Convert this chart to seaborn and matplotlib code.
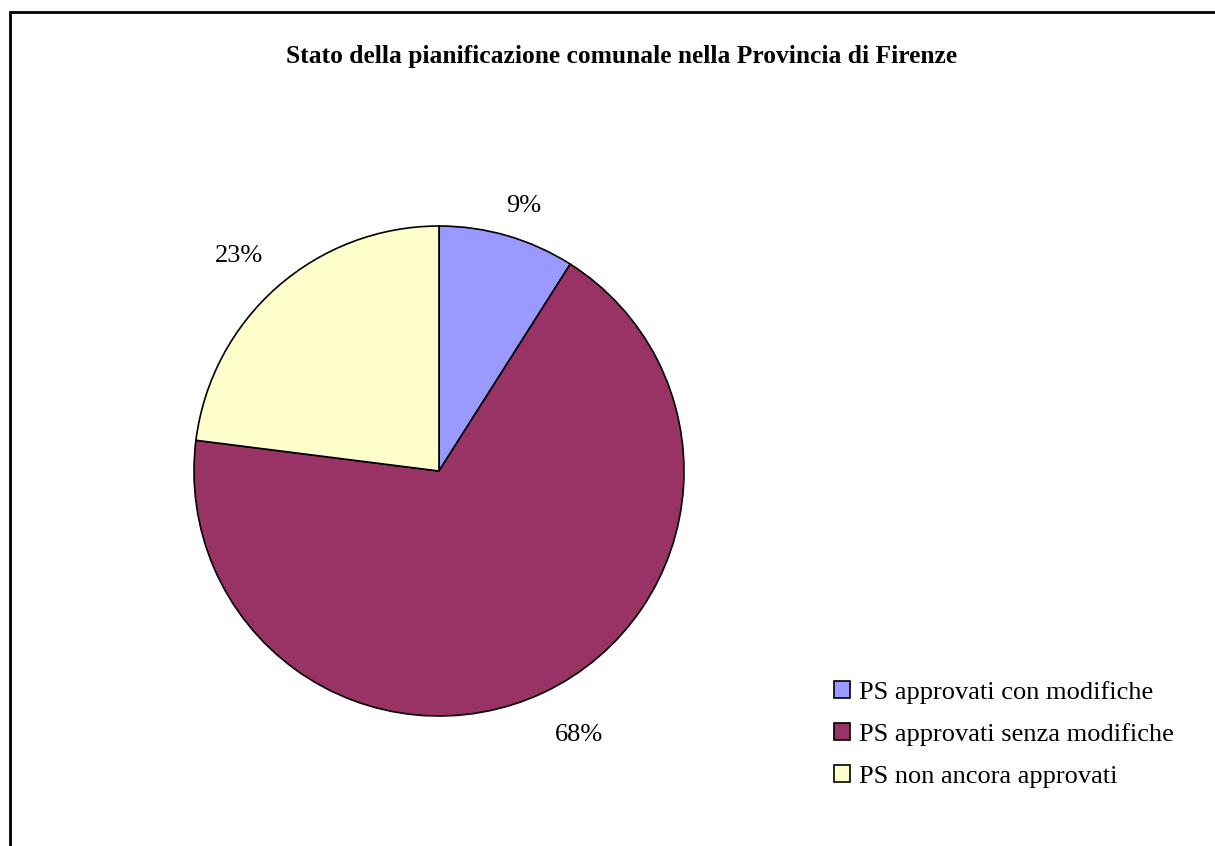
import matplotlib
matplotlib.use("Agg")
import numpy as np
import matplotlib.pyplot as plt
import seaborn as sns
from matplotlib.patches import Rectangle, Patch

categories = ["PS approvati con modifiche", "PS approvati senza modifiche", "PS non ancora approvati"]
values = [9, 68, 23]
colors = ["#9999FF", "#993366", "#FFFFCC"]
title = "Stato della pianificazione comunale nella Provincia di Firenze"

sns.set_theme(style="white")
plt.rcParams["font.family"] = ["Liberation Serif", "DejaVu Serif"]
plt.rcParams["text.color"] = "black"

W, H = 1215, 846
fig = plt.figure(figsize=(W / 100, H / 100), dpi=100)
fig.patch.set_facecolor("white")

# frame
fig.patches.append(Rectangle((10 / W, -0.1), 1.2, 1 - 12 / H + 0.1, transform=fig.transFigure,
                             fill=False, edgecolor="black", linewidth=2))

cx, cy, r = 439, 471, 245
ax = fig.add_axes([(cx - r) / W, (H - cy - r) / H, 2 * r / W, 2 * r / H])
wedges, texts, autotexts = ax.pie(values, colors=colors, startangle=90, counterclock=False,
                                  autopct=lambda p: f"{p:.0f}%", pctdistance=1.17,
                                  wedgeprops=dict(edgecolor="black", linewidth=1.2),
                                  textprops=dict(fontsize=19, color="black"))
# label placement (radial distance, angular nudge in degrees) like Excel's outside labels
label_dist = [1.135, 1.22, 1.2]
label_nudge = [-1.5, 2.8, 1.5]
for w, t, d, n in zip(wedges, autotexts, label_dist, label_nudge):
    ang = np.deg2rad((w.theta1 + w.theta2) / 2 + n)
    t.set_position((d * np.cos(ang), d * np.sin(ang)))
ax.set_aspect("equal")
ax.set_xlim(-1, 1)
ax.set_ylim(-1, 1)
ax.axis("off")

fig.text(622 / W, 1 - 57 / H, title, ha="center", va="center", fontsize=18.4,
         fontweight="bold", color="black")

handles = [Patch(facecolor=c, edgecolor="black", linewidth=1.2) for c in colors]
leg = fig.legend(handles, categories, loc="upper left", bbox_to_anchor=(834 / W, 1 - 681 / H),
                 frameon=False, fontsize=19, handlelength=0.6, handleheight=0.6, handletextpad=0.35,
                 labelspacing=0.72, borderaxespad=0, borderpad=0)
for t in leg.get_texts():
    t.set_color("black")

fig.savefig("out.png", dpi=100, facecolor="white")
